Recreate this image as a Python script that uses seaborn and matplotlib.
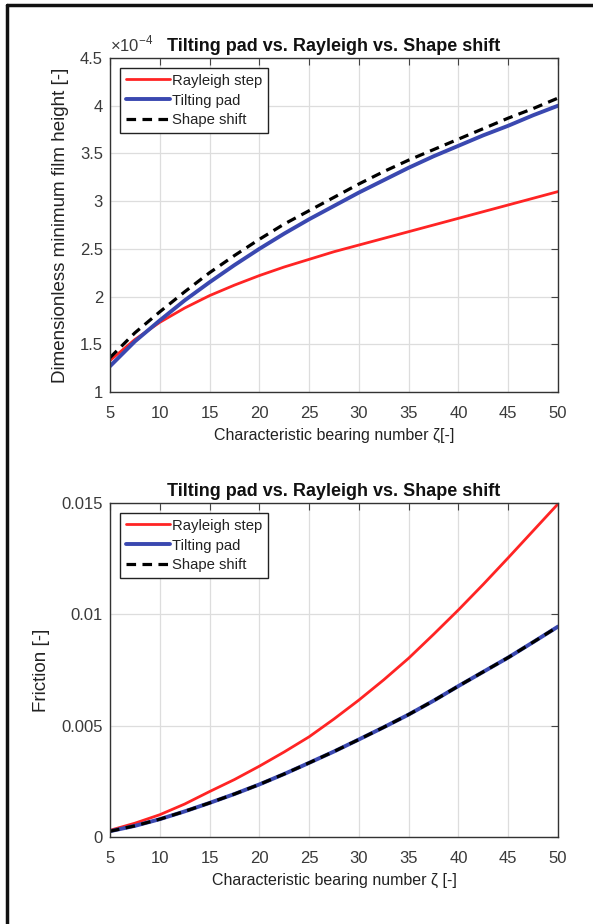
import matplotlib
matplotlib.use("Agg")
import matplotlib.pyplot as plt
import seaborn as sns
import pandas as pd
from matplotlib.lines import Line2D
from matplotlib.ticker import FuncFormatter

# ---- data ----
zeta = [5, 7.5, 10, 12.5, 15, 17.5, 20, 22.5, 25, 27.5, 30, 32.5, 35, 37.5, 40, 42.5, 45, 47.5, 50]
xticks = [5, 10, 15, 20, 25, 30, 35, 40, 45, 50]
series_names = ["Rayleigh step", "Tilting pad", "Shape shift"]

# Dimensionless minimum film height (x 1e-4)
h_rayleigh = [1.33, 1.55, 1.73, 1.88, 2.01, 2.12, 2.22, 2.31, 2.39, 2.47, 2.54, 2.61, 2.68, 2.75, 2.82, 2.89, 2.96, 3.03, 3.10]
h_tilting = [1.27, 1.53, 1.75, 1.96, 2.15, 2.33, 2.50, 2.66, 2.81, 2.95, 3.09, 3.22, 3.35, 3.47, 3.58, 3.69, 3.79, 3.90, 4.00]
h_shape = [1.36, 1.62, 1.84, 2.05, 2.25, 2.43, 2.60, 2.76, 2.90, 3.04, 3.18, 3.31, 3.43, 3.54, 3.65, 3.76, 3.87, 3.97, 4.08]

# Friction
f_rayleigh = [0.00030, 0.00062, 0.00100, 0.00148, 0.00204, 0.00258, 0.00318, 0.00382, 0.00450, 0.00530,
              0.00615, 0.00706, 0.00803, 0.00910, 0.01020, 0.01135, 0.01254, 0.01375, 0.01496]
f_tilting = [0.00026, 0.00050, 0.00080, 0.00115, 0.00153, 0.00193, 0.00236, 0.00283, 0.00333, 0.00384,
             0.00438, 0.00493, 0.00550, 0.00612, 0.00678, 0.00742, 0.00806, 0.00875, 0.00945]
f_shape = [0.00026, 0.00050, 0.00080, 0.00115, 0.00153, 0.00193, 0.00236, 0.00283, 0.00333, 0.00384,
           0.00438, 0.00493, 0.00550, 0.00612, 0.00678, 0.00742, 0.00806, 0.00875, 0.00945]

h_ticks = [1, 1.5, 2, 2.5, 3, 3.5, 4, 4.5]
f_ticks = [0, 0.005, 0.01, 0.015]
f_ticklabels = ["0", "0.005", "0.01", "0.015"]

title = "Tilting pad vs. Rayleigh vs. Shape shift"
xlabel_top = "Characteristic bearing number \u03b6[-]"
xlabel_bot = "Characteristic bearing number \u03b6 [-]"
ylabel_top = "Dimensionless minimum film height [-]"
ylabel_bot = "Friction [-]"

sns.set_theme(style="white")
plt.rcParams["font.family"] = ["Liberation Sans", "DejaVu Sans"]
plt.rcParams["mathtext.fontset"] = "custom"
plt.rcParams["mathtext.rm"] = "Liberation Sans"

colors = {"Rayleigh step": "#ff2424", "Tilting pad": "#3a48b0", "Shape shift": "black"}
widths = {"Rayleigh step": 2.0, "Tilting pad": 2.8, "Shape shift": 2.3}
styles = {"Rayleigh step": "-", "Tilting pad": "-", "Shape shift": (0, (3, 2))}

fig = plt.figure(figsize=(5.93, 9.24), dpi=100)
ax1 = fig.add_axes([110/593, 1-392/924, 448/593, 334/924])
ax2 = fig.add_axes([110/593, 1-837/924, 448/593, 334/924])

def draw(ax, vals, scale):
    for name, v in zip(series_names, vals):
        df = pd.DataFrame({"zeta": zeta, "val": [x*scale for x in v]})
        sns.lineplot(data=df, x="zeta", y="val", ax=ax, color=colors[name],
                     linewidth=widths[name], linestyle=styles[name], label=name)

draw(ax1, [h_rayleigh, h_tilting, h_shape], 1e-4)
draw(ax2, [f_rayleigh, f_tilting, f_shape], 1.0)

tc = "#3a3a3a"
for ax in (ax1, ax2):
    ax.set_xlim(5, 50)
    ax.set_xticks(xticks)
    ax.grid(True, color="#dddddd", linewidth=0.9)
    ax.tick_params(direction="in", top=True, right=True, length=5, width=0.8,
                   labelsize=12, labelcolor=tc, color="#444444")
    ax.tick_params(axis="x", pad=10)
    ax.tick_params(axis="y", pad=5)
    for s in ax.spines.values():
        s.set_color("#333333")
        s.set_linewidth(1.0)
    ax.set_title(title, fontsize=13, fontweight="bold", color="#111111", pad=5)
    leg = ax.legend(loc="upper left", fontsize=10.7, frameon=True, fancybox=False,
                    edgecolor="#222222", framealpha=1, borderpad=0.35,
                    handlelength=3.0, handletextpad=0.15, labelspacing=0.4,
                    borderaxespad=0.7)
    leg.get_frame().set_linewidth(1.0)
    for t in leg.get_texts():
        t.set_color("#222222")

ax1.set_ylim(1e-4, 4.5e-4)
ax1.set_yticks([v*1e-4 for v in h_ticks])
ax1.yaxis.set_major_formatter(FuncFormatter(lambda v, p: "%g" % round(v*1e4, 4)))
ax1.text(0.0, 1.012, r"$\times10^{-4}$", transform=ax1.transAxes, fontsize=12,
         color=tc, ha="left", va="bottom")
ax1.set_xlabel(xlabel_top, fontsize=11.5, color="#222222", labelpad=5)
ax1.set_ylabel(ylabel_top, fontsize=13.5, color="#222222", labelpad=8)

ax2.set_ylim(0, 0.015)
ax2.set_yticks(f_ticks)
ax2.set_yticklabels(f_ticklabels)
ax2.set_xlabel(xlabel_bot, fontsize=11.5, color="#222222", labelpad=5)
ax2.set_ylabel(ylabel_bot, fontsize=13.5, color="#222222", labelpad=8)

# outer frame lines (left and top)
fig.add_artist(Line2D([7/593, 7/593], [0, 1-5/924], transform=fig.transFigure,
                      color="#111111", linewidth=2.5))
fig.add_artist(Line2D([7/593, 1], [1-5/924, 1-5/924], transform=fig.transFigure,
                      color="#111111", linewidth=2.5))

fig.savefig("out.png", dpi=100, facecolor="white")
